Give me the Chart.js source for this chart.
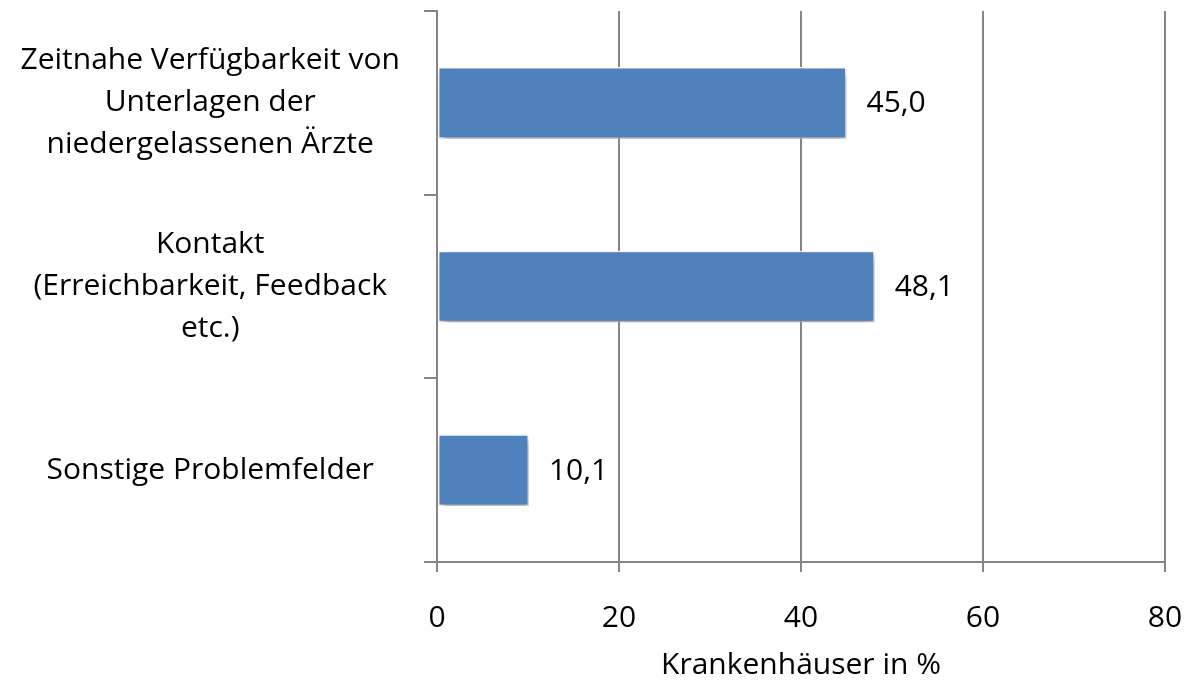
<!DOCTYPE html>
<html>
<head>
<meta charset="utf-8">
<script src="https://cdn.jsdelivr.net/npm/chart.js@4"></script>
<style>
  html, body { margin: 0; padding: 0; background: #fff; }
  #wrap { width: 1188px; height: 684px; position: relative; }
</style>
</head>
<body>
<div id="wrap"><canvas id="chart"></canvas></div>
<script>
// data
var CATEGORIES = [
  ['Zeitnahe Verfügbarkeit von', 'Unterlagen der', 'niedergelassenen Ärzte'],
  ['Kontakt', '(Erreichbarkeit, Feedback', 'etc.)'],
  ['Sonstige Problemfelder']
];
var VALUES = [45.0, 48.1, 10.1];
var X_TICKS = [0, 20, 40, 60, 80];
var X_TITLE = 'Krankenhäuser in %';

var FONT = '"Open Sans", "DejaVu Sans", sans-serif';
var FS = 30;
var AXIS = '#868686';
var BAR = '#4F81BD';

function fmt(v) { return v.toFixed(1).replace('.', ','); }

// drop shadow under the bars
var barShadow = {
  id: 'barShadow',
  beforeDatasetDraw: function (chart) {
    var ctx = chart.ctx;
    ctx.save();
    ctx.shadowColor = 'rgba(0,0,0,0.4)';
    ctx.shadowBlur = 7;
    ctx.shadowOffsetX = 2;
    ctx.shadowOffsetY = 4;
  },
  afterDatasetDraw: function (chart) {
    chart.ctx.restore();
  }
};

// value labels to the right of each bar
var valueLabels = {
  id: 'valueLabels',
  afterDatasetsDraw: function (chart) {
    var ctx = chart.ctx;
    var meta = chart.getDatasetMeta(0);
    ctx.save();
    ctx.font = FS + 'px ' + FONT;
    ctx.fillStyle = '#000';
    ctx.textAlign = 'left';
    ctx.textBaseline = 'middle';
    meta.data.forEach(function (bar, i) {
      ctx.fillText(fmt(VALUES[i]), bar.x + 20, bar.y + 1);
    });
    ctx.restore();
  }
};

new Chart(document.getElementById('chart'), {
  type: 'bar',
  data: {
    labels: CATEGORIES,
    datasets: [{
      data: VALUES,
      backgroundColor: BAR,
      borderColor: '#ffffff',
      borderWidth: 1.5,
      borderSkipped: false,
      categoryPercentage: 1,
      barPercentage: 0.39
    }]
  },
  options: {
    indexAxis: 'y',
    responsive: true,
    maintainAspectRatio: false,
    animation: false,
    layout: { padding: { top: 11, right: 23, left: 0, bottom: 0 } },
    plugins: {
      legend: { display: false },
      tooltip: { enabled: false }
    },
    scales: {
      x: {
        min: 0, max: 80,
        afterBuildTicks: function (s) { s.ticks = X_TICKS.map(function (v) { return { value: v }; }); },
        afterFit: function (s) { s.height = 122; s.paddingLeft = 0; s.paddingRight = 0; },
        grid: { color: AXIS, lineWidth: 2, tickLength: 10, drawTicks: true },
        border: { color: AXIS, width: 2 },
        ticks: { color: '#000', font: { family: FONT, size: FS }, padding: 28, maxRotation: 0 },
        title: {
          display: true, text: X_TITLE, color: '#000',
          font: { family: FONT, size: FS }, padding: { top: 0, bottom: 1 }
        }
      },
      y: {
        afterFit: function (s) { s.width = 437; s.paddingTop = 0; s.paddingBottom = 0; },
        grid: { drawOnChartArea: false, color: AXIS, lineWidth: 2, tickLength: 13 },
        border: { color: AXIS, width: 2 },
        ticks: {
          color: '#000', crossAlign: 'center', padding: 24,
          font: { family: FONT, size: FS, lineHeight: 1.4 }
        }
      }
    }
  },
  plugins: [barShadow, valueLabels]
});
</script>
</body>
</html>
